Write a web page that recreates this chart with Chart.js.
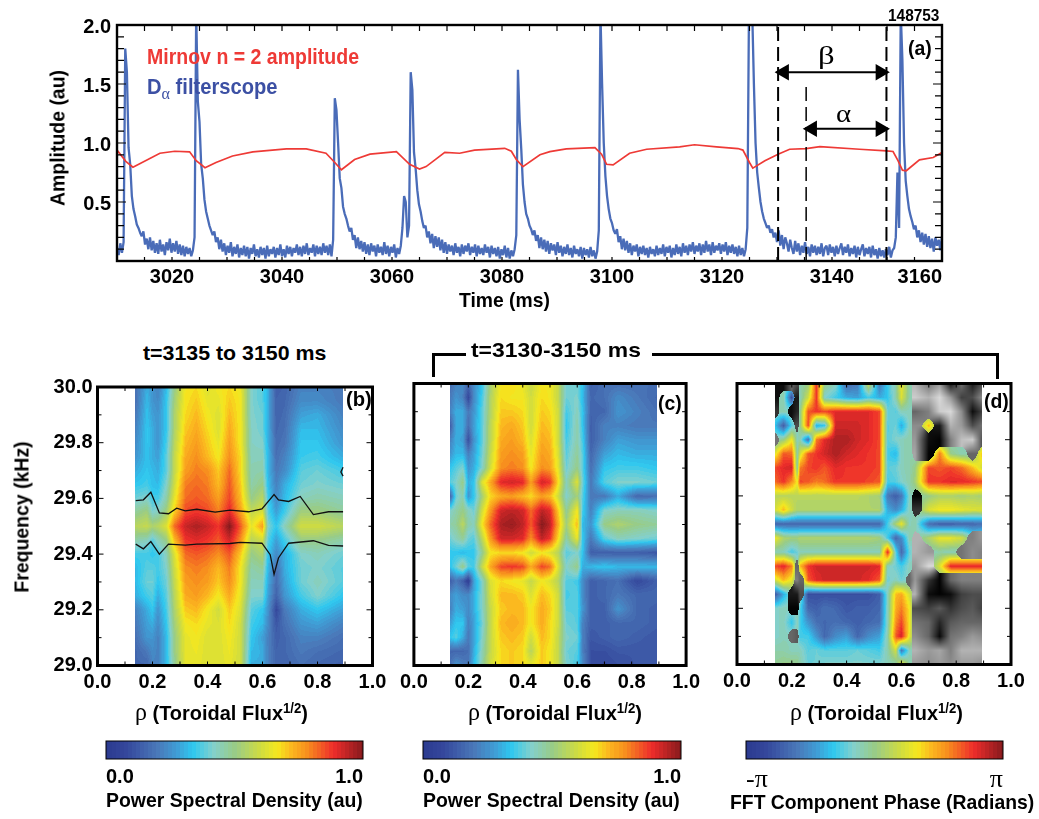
<!DOCTYPE html>
<html><head><meta charset="utf-8">
<script src="https://cdn.jsdelivr.net/npm/chart.js@4"></script>
<style>
html,body{margin:0;padding:0;background:#fff;width:1039px;height:819px;overflow:hidden}
canvas{position:absolute;display:block}
.t{position:absolute;white-space:nowrap;font-family:"Liberation Sans",sans-serif;font-weight:bold;color:#000;line-height:1}
.s{font-family:"Liberation Serif",serif;font-weight:normal}
sup{font-size:.66em;vertical-align:.5em;line-height:0}
sub{font-size:.8em;vertical-align:-.3em;line-height:0;font-family:"Liberation Serif",serif;font-weight:normal}
.b{position:absolute;background:#000}
</style></head><body>
<script>
/* ---------- panel (a) data ---------- */
const mirnovTime=[3010,3011.6,3012.9,3017.8,3020.5,3023.2,3024.4,3026,3028,3031,3034.7,3040.8,3044.4,3048,3049.6,3050.8,3053.2,3056,3060.8,3063.2,3065,3066.2,3069.6,3072.3,3075,3080.5,3081.7,3082.6,3083.8,3086.9,3088.7,3091.7,3096.9,3098.1,3099,3100.2,3103.2,3106.3,3112.3,3115,3119,3122.9,3123.8,3125,3125.6,3127.8,3130.2,3132.3,3135.3,3137.8,3145,3149.9,3151.1,3152,3152.8,3153.5,3155.9,3158.4,3160];
const mirnovAmp=[.94,.845,.795,.913,.93,.925,.85,.79,.835,.89,.925,.95,.95,.913,.835,.773,.86,.905,.927,.82,.78,.8,.92,.913,.94,.955,.93,.86,.8,.9,.927,.95,.96,.905,.82,.815,.913,.947,.967,.985,.967,.953,.94,.835,.787,.85,.905,.947,.953,.97,.947,.933,.928,.85,.77,.765,.857,.877,.92];
/* D-alpha sampled every 0.3 ms from 3010 ms, in hundredths */
const dalphaAmp=[11,5,15,7,16,
180,160,96,82,55,44,38,31,28,24,21,25,14,19,10,20,
9,17,7,15,6,18,8,14,5,16,9,19,7,15,8,17,6,14,5,13,4,12,6,11,4,9,20,
210,135,118,82,70,52,42,36,30,26,22,25,16,20,10,18,8,
15,5,13,7,16,4,12,6,14,3,11,5,13,4,12,2,11,6,14,4,
10,3,12,5,11,2,13,4,10,6,12,3,11,5,14,4,10,3,13,6,
12,4,11,7,14,5,12,4,13,6,15,5,11,7,14,4,13,6,12,5,
15,7,13,5,14,4,18,
138,128,100,70,62,46,40,36,30,25,28,18,22,11,20,10,17,
8,16,6,14,5,15,8,13,4,14,7,12,5,16,6,13,4,12,7,14,3,11,6,13,
28,55,50,20,30,
160,145,92,78,60,48,42,34,28,30,20,25,15,23,11,21,12,20,9,18,
7,16,6,14,8,13,5,15,7,12,4,14,6,13,8,15,5,12,7,14,
4,13,6,11,5,14,7,12,3,13,6,11,4,12,2,10,5,13,3,11,2,9,4,10,
22,
162,120,95,65,50,40,36,30,27,22,26,17,22,11,20,10,18,
8,17,6,15,9,14,5,16,7,13,4,12,6,14,5,11,3,13,6,10,4,12,2,11,5,10,3,12,4,9,2,8,
26,
210,150,100,72,55,44,36,32,26,23,27,16,21,10,19,9,17,
7,15,5,13,8,14,4,12,6,13,5,11,3,12,6,10,4,13,5,11,
6,14,4,12,7,13,3,11,5,14,6,12,4,15,7,13,5,14,8,16,
6,13,8,15,5,14,7,17,8,14,5,16,7,13,9,15,6,14,8,16,
5,13,7,14,6,12,4,13,5,11,4,10,
28,
210,210,210,150,100,75,62,50,42,36,32,28,30,24,27,20,24,16,26,13,22,10,20,15,8,18,
11,6,17,8,15,5,13,7,16,6,12,4,14,7,13,5,12,6,15,4,
11,13,5,14,7,12,4,13,6,11,15,5,12,7,14,4,11,6,13,3,
12,5,10,14,4,11,6,12,3,13,5,10,2,11,4,9,3,10,5,12,3,9,11,
20,75,28,210,170,100,68,55,44,38,33,27,30,20,26,16,24,14,23,12,21,11,19,8,20,13,18,9,21];
const timeTickLabels=[3020,3040,3060,3080,3100,3120,3140,3160];
const ampTickLabels=['0.5','1.0','1.5','2.0'];
const windowBeta=[3130.2,3149.9], windowAlpha=[3135.3,3149.9];
const betaArrowAmp=1.6, alphaArrowAmp=1.12, alphaTopAmp=1.51;

/* ---------- heat-map data: rows from 30.0 down to 29.0 kHz, values in percent of the colour bar ---------- */
const freqRows=[30,29.95,29.9,29.85,29.8,29.75,29.7,29.65,29.6,29.55,29.5,29.45,29.4,29.35,29.3,29.25,29.2,29.15,29.1,29.05,29];
const rhoB=[.138,.18,.2,.22,.25,.28,.32,.36,.4,.44,.48,.52,.56,.6,.62,.65,.68,.74,.8,.893];
const psdB=[
[18,30,26,22,32,50,66,68,62,66,68,65,42,38,30,14,15,22,22,20],
[18,32,26,24,34,52,67,70,64,64,70,66,42,38,30,15,16,24,24,20],
[20,33,28,26,34,54,68,72,66,62,72,66,42,40,30,15,17,28,30,22],
[22,34,30,26,34,54,70,74,68,62,74,66,43,40,30,16,18,32,32,24],
[24,34,30,26,36,56,72,76,70,64,76,66,43,42,31,17,19,34,34,26],
[26,33,30,28,38,58,74,78,72,66,78,68,44,44,32,18,22,35,36,30],
[30,34,32,30,38,58,76,80,78,70,82,68,45,46,32,20,24,38,40,36],
[34,36,33,32,42,60,80,82,80,72,84,70,46,50,33,22,30,40,42,40],
[40,42,36,36,46,64,82,84,82,76,86,72,50,56,36,24,32,44,46,44],
[48,52,42,44,52,70,86,88,86,80,90,76,58,62,38,28,36,52,52,48],
[56,58,54,56,62,82,93,96,93,88,100,84,64,76,42,34,44,60,60,56],
[46,44,38,44,50,72,88,90,88,84,92,78,56,60,38,28,36,50,50,46],
[36,36,34,36,44,62,82,84,82,78,84,70,50,54,34,24,30,42,44,40],
[32,38,38,36,42,60,78,80,78,72,80,66,46,48,32,18,30,40,42,38],
[32,40,40,34,40,58,76,78,76,70,78,66,44,44,30,17,28,40,44,38],
[30,36,38,30,38,56,74,76,72,66,74,64,42,42,28,15,26,36,42,34],
[22,30,34,26,36,54,70,72,66,60,70,62,38,34,26,8,20,30,34,28],
[20,28,30,24,34,52,66,68,64,62,68,60,36,32,24,12,18,26,28,22],
[18,26,26,22,32,50,64,66,62,62,66,60,34,28,22,14,16,22,22,18],
[16,20,24,22,32,50,64,65,62,62,65,60,32,30,22,15,16,20,18,16],
[16,16,22,22,32,48,64,64,62,62,64,60,30,30,22,15,15,18,16,14]];
const contourUpperRho=[.139,.167,.194,.225,.258,.288,.319,.361,.428,.482,.549,.598,.642,.658,.695,.737,.785,.84,.893];
const contourUpperFreq=[29.592,29.595,29.622,29.548,29.545,29.565,29.555,29.561,29.551,29.558,29.552,29.562,29.614,29.595,29.589,29.607,29.542,29.552,29.552];
const contourLowerRho=[.139,.167,.194,.225,.258,.319,.361,.482,.519,.598,.628,.642,.658,.695,.785,.84,.893];
const contourLowerFreq=[29.436,29.419,29.445,29.4,29.436,29.432,29.436,29.438,29.442,29.439,29.398,29.327,29.386,29.439,29.448,29.431,29.429];
const contourIslandRho=[.893,.885,.893];
const contourIslandFreq=[29.712,29.695,29.68];

const rhoC=[.134,.155,.18,.2,.22,.25,.28,.32,.36,.4,.43,.47,.5,.53,.56,.6,.62,.65,.7,.75,.82,.893];
const psdC=[
[18,22,24,16,24,34,52,66,68,64,58,66,66,58,40,40,34,14,18,18,18,18],
[20,26,22,8,24,36,54,68,66,66,60,68,66,58,40,42,32,16,18,24,20,16],
[22,30,30,20,26,38,54,70,70,68,60,70,68,60,36,44,34,15,16,26,22,18],
[14,30,30,18,28,38,56,72,74,70,60,72,70,60,34,46,34,14,22,22,20,20],
[22,30,28,10,26,38,56,74,76,72,62,74,72,60,36,46,36,14,22,28,26,26],
[26,32,32,22,28,40,58,76,78,76,64,76,74,62,38,48,38,16,28,32,30,30],
[34,38,42,26,30,42,60,78,80,78,66,78,76,64,40,50,38,18,34,36,36,34],
[38,42,50,30,34,62,74,90,92,90,76,92,88,68,44,62,40,20,38,42,42,40],
[16,40,46,26,34,52,68,74,76,72,68,76,72,60,42,52,38,20,20,30,16,18],
[42,46,50,44,40,60,76,92,94,92,82,94,90,70,48,66,36,22,42,44,44,42],
[46,48,56,46,44,66,82,96,98,94,84,100,94,74,52,72,32,26,50,54,50,48],
[40,44,48,40,38,56,76,92,92,90,78,94,88,68,46,64,34,20,38,44,42,40],
[34,34,32,34,34,48,66,68,68,66,60,66,62,56,38,42,34,14,14,14,14,12],
[34,40,50,38,36,58,74,86,88,86,74,86,82,62,42,50,30,32,34,32,32,32],
[14,20,14,4,28,42,62,68,66,64,58,66,62,56,38,36,24,14,16,18,8,14],
[24,28,24,24,30,42,60,72,72,70,62,72,68,60,36,38,24,14,16,20,16,16],
[22,30,28,24,30,42,58,70,72,72,66,74,70,60,38,38,26,14,14,26,16,14],
[28,34,34,22,28,40,58,72,74,72,66,74,68,60,40,38,22,14,14,16,16,14],
[34,38,30,20,28,42,58,70,72,70,60,72,68,58,42,40,22,12,14,16,14,12],
[16,16,16,18,30,44,58,68,70,68,56,70,66,58,40,38,22,10,10,12,12,12],
[18,26,22,20,32,46,60,68,70,68,64,70,66,58,42,36,24,10,8,10,12,12]];

/* phase panel: positive = colour bar percent, negative = grey level percent (masked points) */
const rhoD=[.138,.17,.2,.22,.23,.26,.29,.32,.36,.4,.44,.48,.52,.55,.58,.6,.63,.65,.7,.74,.78,.82,.86,.895];
const phaseD=[
[-5,-5,-40,-30,45,50,88,50,44,16,20,60,20,36,46,64,46,-70,-45,-60,-8,-45,-10,-30],
[-5,46,10,-10,44,60,88,42,36,30,28,36,30,34,46,62,46,-80,-70,-85,-60,-25,-30,-55],
[-20,45,-5,-15,48,84,88,86,90,90,90,90,86,40,38,44,44,-40,-50,-80,-85,-55,-5,-25],
[34,14,38,-30,48,86,30,34,92,92,92,90,86,38,40,30,44,-55,72,-10,-70,-60,-30,-45],
[-45,50,66,44,46,18,80,90,96,96,92,90,86,38,42,44,46,-60,-5,-1,-50,-75,-80,-30],
[62,84,82,46,60,84,88,92,96,92,90,88,86,36,32,44,46,-65,-1,80,50,45,-40,72],
[86,90,92,46,80,86,88,84,90,88,88,88,86,38,40,44,46,50,86,84,86,82,72,60],
[82,88,78,66,86,84,80,82,88,88,88,86,84,36,38,42,46,52,88,88,90,90,88,86],
[56,56,56,56,56,56,56,56,56,56,56,54,52,20,14,20,44,-1,50,54,54,52,54,52],
[60,72,60,54,54,54,54,54,54,54,54,54,54,30,24,30,44,-20,62,66,66,64,62,62],
[16,16,16,16,16,16,16,16,16,16,16,16,16,36,54,64,44,46,18,14,14,16,16,18],
[66,54,52,52,54,54,54,54,54,54,54,54,52,36,16,24,46,-70,54,64,64,60,-50,-60],
[44,44,36,40,44,44,44,44,44,44,44,44,44,90,38,16,40,-70,-60,46,44,-45,-55,-50],
[86,90,80,-40,72,88,92,92,92,92,92,92,90,44,40,36,44,-60,-85,62,90,90,90,90],
[60,72,64,-50,-40,84,90,92,92,92,92,90,84,40,44,40,-40,-60,-20,-1,-40,-50,-50,-50],
[12,30,-10,-10,-30,10,10,10,10,10,10,10,14,44,72,74,60,-70,-5,-1,-5,-25,-30,-30],
[42,44,-1,-1,38,16,14,18,16,12,14,14,16,44,74,80,66,-30,-25,-35,-20,-30,-35,-25],
[42,44,34,44,36,26,18,16,18,16,14,16,18,44,78,86,66,-45,-40,-15,-35,-40,-40,-40],
[42,44,-40,-35,36,36,26,16,24,28,16,24,28,46,84,92,64,-55,-40,-3,-45,-50,-60,-55],
[46,46,44,44,44,38,40,38,38,38,40,38,36,46,60,20,44,-70,-60,-65,-50,-70,-70,-70],
[48,50,50,50,46,40,40,42,42,42,42,42,42,44,46,66,46,-60,-55,-60,-55,-60,-60,-55]];
const maskRimValue=44;

/* colour bar */
const colorBarLevels=[0,5,10,15,20,25,30,35,40,45,50,55,60,65,70,75,80,85,90,95,100];
const colorMapStops=[[0,'#2b3a8f'],[.08,'#35479c'],[.2,'#4a78b9'],[.28,'#3f9fd6'],[.34,'#2ec8f0'],[.42,'#84d0cc'],[.5,'#98cc88'],[.6,'#d0dc40'],[.665,'#f5e81e'],[.72,'#fbb81f'],[.78,'#f7901e'],[.885,'#ee2d2b'],[1,'#861a1d']];
const rhoTicks=['0.0','0.2','0.4','0.6','0.8','1.0'];
const freqTicks=['29.0','29.2','29.4','29.6','29.8','30.0'];

/* ---------- helpers ---------- */
const FONT='"Liberation Sans",sans-serif';
const stopRGB=colorMapStops.map(s=>[s[0],parseInt(s[1].slice(1,3),16),parseInt(s[1].slice(3,5),16),parseInt(s[1].slice(5,7),16)]);
function cmap(v){
  v=Math.max(0,Math.min(1,Math.round(v*64)/64));
  for(let i=1;i<stopRGB.length;i++){
    if(v<=stopRGB[i][0]){
      const a=stopRGB[i-1],b=stopRGB[i],f=(v-a[0])/(b[0]-a[0]);
      return [a[1]+f*(b[1]-a[1]),a[2]+f*(b[2]-a[2]),a[3]+f*(b[3]-a[3])];
    }
  }
  return stopRGB[stopRGB.length-1].slice(1);
}
function locate(arr,v){
  const asc=arr[1]>arr[0];
  let i=0;
  while(i<arr.length-2 && (asc? v>arr[i+1] : v<arr[i+1])) i++;
  return [i,Math.max(0,Math.min(1,(v-arr[i])/(arr[i+1]-arr[i])))];
}
const heatPlugin={id:'heat',beforeDatasetsDraw(chart){
  const h=chart.options.plugins.heat; if(!h||!h.values) return;
  const X=chart.scales.x,Y=chart.scales.y,ctx=chart.ctx;
  const x0=Math.round(X.getPixelForValue(h.cols[0])),x1=Math.round(X.getPixelForValue(h.cols[h.cols.length-1]));
  const y0=Math.round(Y.getPixelForValue(h.rows[0])),y1=Math.round(Y.getPixelForValue(h.rows[h.rows.length-1]));
  const top=Math.min(y0,y1),bot=Math.max(y0,y1),w=x1-x0,hh=bot-top;
  const off=document.createElement('canvas');off.width=w;off.height=hh;
  const oc=off.getContext('2d'),im=oc.createImageData(w,hh);
  for(let py=0;py<hh;py++){
    const [r,fr]=locate(h.rows,Y.getValueForPixel(top+py+.5));
    for(let px=0;px<w;px++){
      const [c,fc]=locate(h.cols,X.getValueForPixel(x0+px+.5));
      const cs=[[h.values[r][c],(1-fr)*(1-fc)],[h.values[r][c+1],(1-fr)*fc],[h.values[r+1][c],fr*(1-fc)],[h.values[r+1][c+1],fr*fc]];
      let m=0;cs.forEach(k=>{if(k[0]>=0)m+=k[1];});
      let rgb;
      if(m>=.5){
        let s=0;cs.forEach(k=>{s+=(k[0]>=0?k[0]:maskRimValue)*k[1];});
        rgb=cmap(s/100);
      }else{
        let s=0,t=0;cs.forEach(k=>{if(k[0]<0){s+=-k[0]*k[1];t+=k[1];}});
        const g=Math.min(255,s/t/100*255);rgb=[g,g,g];
      }
      const o=(py*w+px)*4;im.data[o]=rgb[0];im.data[o+1]=rgb[1];im.data[o+2]=rgb[2];im.data[o+3]=255;
    }
  }
  oc.putImageData(im,0,0);ctx.drawImage(off,x0,top);
}};
const framePlugin={id:'frame',afterDraw(chart){
  const f=chart.options.plugins.frame; if(!f) return;
  const a=chart.chartArea,ctx=chart.ctx;ctx.save();ctx.strokeStyle='#000';
  ctx.lineWidth=f.tickWidth;
  const X=chart.scales.x,Y=chart.scales.y;
  ctx.beginPath();
  Y.ticks.forEach((t,i)=>{const p=Y.getPixelForTick(i),major=Math.abs(t.value/f.yMajor-Math.round(t.value/f.yMajor))<.001,l=major?f.yLong:f.yShort;
    ctx.moveTo(a.left,p);ctx.lineTo(a.left+l,p);ctx.moveTo(a.right,p);ctx.lineTo(a.right-l,p);});
  X.ticks.forEach((t,i)=>{const p=X.getPixelForTick(i);
    ctx.moveTo(p,a.top);ctx.lineTo(p,a.top+f.xTop);ctx.moveTo(p,a.bottom);ctx.lineTo(p,a.bottom-f.xBottom);});
  ctx.stroke();
  ctx.lineWidth=f.width;ctx.strokeRect(a.left,a.top,a.right-a.left,a.bottom-a.top);
  ctx.restore();
}};
Chart.register(heatPlugin,framePlugin);
function mk(rect,area,cfg,xOpt,yOpt,plugins){
  const c=document.createElement('canvas');
  c.width=rect.w;c.height=rect.h;c.style.left=rect.x+'px';c.style.top=rect.y+'px';c.style.width=rect.w+'px';c.style.height=rect.h+'px';
  document.body.appendChild(c);
  xOpt.afterFit=s=>{s.height=rect.y+rect.h-area.bottom;};
  if(yOpt.display!==false) yOpt.afterFit=s=>{s.width=area.left-rect.x;};
  return new Chart(c,{type:'scatter',data:cfg,options:{responsive:false,animation:false,
    layout:{padding:{left:yOpt.display===false?area.left-rect.x:0,top:area.top-rect.y,right:rect.x+rect.w-area.right,bottom:0}},
    scales:{x:xOpt,y:yOpt},
    plugins:Object.assign({legend:{display:false},tooltip:{enabled:false}},plugins)}});
}
const pts=(xs,ys)=>xs.map((x,i)=>({x,y:ys[i]}));
const tickFont=(s=20)=>({family:FONT,weight:'bold',size:s});
const noGrid={display:false,drawTicks:false};

/* ---------- panel (a) ---------- */
mk({x:0,y:0,w:1039,h:320},{left:117,right:942,top:25,bottom:261},{datasets:[
  {label:'beta start',data:pts([windowBeta[0],windowBeta[0]],[0,2]),showLine:true,borderColor:'#000',borderWidth:2,borderDash:[14,6],pointRadius:0},
  {label:'beta end',data:pts([windowBeta[1],windowBeta[1]],[0,2]),showLine:true,borderColor:'#000',borderWidth:2,borderDash:[14,6],pointRadius:0},
  {label:'alpha start',data:pts([windowAlpha[0],windowAlpha[0]],[0,alphaTopAmp]),showLine:true,borderColor:'#000',borderWidth:1.5,borderDash:[14,6],pointRadius:0},
  {label:'beta',data:pts([windowBeta[0]+1.1,windowBeta[1]-1.1],[betaArrowAmp,betaArrowAmp]),showLine:true,borderColor:'#000',borderWidth:2,pointStyle:'triangle',pointRadius:7.5,pointRotation:[-90,90],pointBackgroundColor:'#000',pointBorderColor:'#000'},
  {label:'alpha',data:pts([windowAlpha[0]+1.1,windowAlpha[1]-1.1],[alphaArrowAmp,alphaArrowAmp]),showLine:true,borderColor:'#000',borderWidth:2,pointStyle:'triangle',pointRadius:7.5,pointRotation:[-90,90],pointBackgroundColor:'#000',pointBorderColor:'#000'},
  {label:'Mirnov n = 2 amplitude',data:pts(mirnovTime,mirnovAmp),showLine:true,borderColor:'#ee3a36',borderWidth:1.7,pointRadius:0,tension:0},
  {label:'D-alpha filterscope',data:dalphaAmp.map((v,i)=>({x:3010+i*.3,y:v/100})),showLine:true,borderColor:'#4a6cb8',borderWidth:2.3,borderJoinStyle:'bevel',pointRadius:0,tension:0}
]},
{type:'linear',min:3010,max:3160,grid:noGrid,border:{display:false},
 ticks:{stepSize:5,autoSkip:false,maxRotation:0,align:'inner',padding:4,color:'#000',font:tickFont(),callback:v=>timeTickLabels.includes(v)?String(v):''}},
{type:'linear',min:0,max:2,grid:noGrid,border:{display:false},
 ticks:{stepSize:.1,autoSkip:false,padding:6,labelOffset:2,color:'#000',font:tickFont(),callback:v=>{const s=v.toFixed(1);return ampTickLabels.includes(s)?s:'';}}},
{frame:{width:2.4,tickWidth:1.2,yMajor:.5,yLong:9,yShort:7,xTop:6,xBottom:4}});

/* ---------- heat panels ---------- */
function heatPanel(rect,area,cols,values,extra,showY){
  const grid=[];freqRows.forEach((f,r)=>cols.forEach((q,c)=>grid.push({x:q,y:f,v:values[r][c]})));
  return mk(rect,area,{datasets:[...extra,{label:'grid',data:grid,pointRadius:0,showLine:false}]},
   {type:'linear',min:0,max:1,grid:noGrid,border:{display:false},
    ticks:{stepSize:.1,autoSkip:false,maxRotation:0,padding:5,color:'#000',font:tickFont(),callback:v=>{const s=v.toFixed(1);return rhoTicks.includes(s)?s:'';}}},
   {type:'linear',min:29,max:30,grid:noGrid,border:{display:false},
    ticks:{display:showY,stepSize:.1,autoSkip:false,padding:5,color:'#000',font:tickFont(),callback:v=>{const s=v.toFixed(1);return freqTicks.includes(s)?s:'';}}},
   {heat:{cols,rows:freqRows,values},frame:{width:3,tickWidth:1,yMajor:.2,yLong:6,yShort:4,xTop:4,xBottom:4}});
}
const lineOpts={showLine:true,borderColor:'#111',borderWidth:1.3,pointRadius:0,tension:0};
heatPanel({x:0,y:370,w:395,h:335},{left:97.5,right:372.5,top:383.5,bottom:665.5},rhoB,psdB,[
  {label:'upper',data:pts(contourUpperRho,contourUpperFreq),...lineOpts},
  {label:'lower',data:pts(contourLowerRho,contourLowerFreq),...lineOpts},
  {label:'island',data:pts(contourIslandRho,contourIslandFreq),...lineOpts}],true);
heatPanel({x:395,y:370,w:310,h:335},{left:412.5,right:686.5,top:383.5,bottom:665.5},rhoC,psdC,[],false);
heatPanel({x:715,y:370,w:320,h:335},{left:737,right:1011,top:383.5,bottom:664.5},rhoD,phaseD,[],false);

/* ---------- colour bars ---------- */
function colorBar(rect,area,tickLabels,font){
  return mk(rect,area,{datasets:[{label:'levels',data:colorBarLevels.map(v=>({x:v/100,y:0})),pointRadius:0,showLine:false}]},
   {type:'linear',min:0,max:1,grid:noGrid,border:{display:false},
    ticks:{stepSize:1,align:'inner',maxRotation:0,padding:6,color:'#000',font,callback:v=>tickLabels[v]}},
   {type:'linear',min:0,max:1,display:false},
   {heat:{cols:colorBarLevels.map(v=>v/100),rows:[1,0],values:[colorBarLevels,colorBarLevels]}});
}
colorBar({x:95,y:735,w:285,h:60},{left:106,right:363,top:741,bottom:759},['0.0','1.0'],tickFont());
colorBar({x:410,y:735,w:285,h:60},{left:423,right:681,top:741,bottom:759},['0.0','1.0'],tickFont());
colorBar({x:735,y:735,w:285,h:60},{left:746,right:1003,top:741,bottom:759},['-π','π'],{family:'"Liberation Serif",serif',weight:'normal',size:26});

/* ---------- real text ---------- */
const RHO='<span class="s" style="font-size:1.2em">ρ</span> (Toroidal Flux<sup>1/2</sup>)';
const labels=[
 {h:'Mirnov n = 2 amplitude',x:147,y:57,w:212,s:22,c:'#ee3a36'},
 {h:'D<sub>α</sub> filterscope',x:147,y:87,w:130,s:22,c:'#3c50a4'},
 {h:'148753',x:888,y:16,w:51,s:16},
 {h:'(a)',x:908,y:47,w:24,s:21},
 {h:'β',x:818,y:55,w:17,s:25,cls:'s'},
 {h:'α',x:836,y:113,w:15,s:25,cls:'s'},
 {h:'Time (ms)',x:459,y:299,w:91,s:21},
 {h:'Amplitude (au)',cx:57,cy:138,w:136,s:21,r:-90},
 {h:'Frequency (kHz)',cx:21,cy:517,w:151,s:21,r:-90},
 {h:'t=3135 to 3150 ms',x:143,y:352,w:183,s:21},
 {h:'t=3130-3150 ms',x:471,y:349,w:170,s:21},
 {h:'(b)',x:346,y:398,w:26,s:21},
 {h:'(c)',x:658,y:402,w:24,s:21},
 {h:'(d)',x:984,y:400,w:25,s:21},
 {h:RHO,x:135,y:712,w:173,s:21},
 {h:RHO,x:468,y:712,w:174,s:21},
 {h:RHO,x:790,y:712,w:173,s:21},
 {h:'Power Spectral Density (au)',x:106,y:799,w:257,s:21},
 {h:'Power Spectral Density (au)',x:423,y:799,w:257,s:21},
 {h:'FFT Component Phase (Radians)',x:730,y:801,w:304,s:21}
];
labels.forEach(l=>{
  const d=document.createElement('div');d.className='t '+(l.cls||'');d.innerHTML=l.h;d.style.fontSize=l.s+'px';if(l.c)d.style.color=l.c;
  document.body.appendChild(d);
  if(l.r){const k=l.w/d.offsetWidth;d.style.left=l.cx+'px';d.style.top=l.cy+'px';d.style.transform=`translate(-50%,-50%) rotate(${l.r}deg) scaleX(${k})`;}
  else{d.style.left=l.x+'px';d.style.top=l.y+'px';const k=l.w/d.offsetWidth;d.style.transformOrigin='left center';d.style.transform=`translateY(-50%) scaleX(${k})`;}
});
/* bracket over panels (c) and (d) */
[[432,353,3,24],[432,353,34,3],[652,353,347,3],[996,353,3,26]].forEach(b=>{
  const d=document.createElement('div');d.className='b';d.style.left=b[0]+'px';d.style.top=b[1]+'px';d.style.width=b[2]+'px';d.style.height=b[3]+'px';document.body.appendChild(d);
});
</script>
</body></html>
